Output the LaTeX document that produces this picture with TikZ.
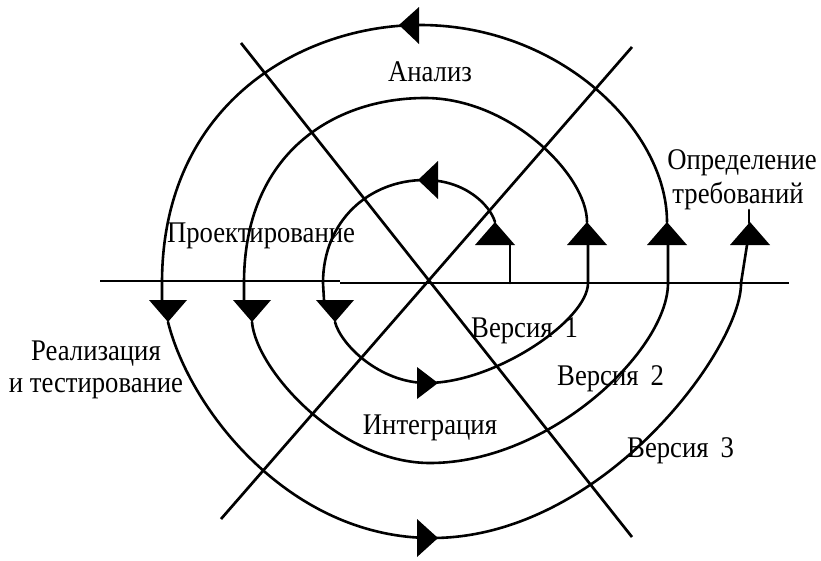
\documentclass[tikz,border=0pt]{standalone}
\usepackage{fontspec}
\setmainfont[FakeStretch=0.89]{Liberation Serif}
\begin{document}
\begin{tikzpicture}[x=1pt,y=-1pt,
  axis/.style={line width=2.7pt},
  spiral/.style={line width=2.6pt, line cap=round, line join=round},
  head/.style={fill=black},
  lbl/.style={font=\fontsize{30}{33}\selectfont, inner sep=0pt, anchor=base}]
\useasboundingbox (0,0) rectangle (821,560);
% axes
\draw[axis] (100,281) -- (340,281);
\draw[axis] (340,283) -- (789,283);
\draw[axis] (241,43) -- (632,537);
\draw[axis] (632,47) -- (221,519);
% key points of the spiral
\coordinate (ui-top) at (425,180);
\coordinate (um-top) at (425,98);
\coordinate (uo-top) at (420,25);
\coordinate (l1-bot) at (427,383);
\coordinate (l2-bot) at (430,463);
\coordinate (l3-bot) at (432,538);
% inner upper arc
\draw[spiral] (510,283) -- (510,245);
\draw[spiral] (495,222) .. controls (490,205) and (465,180) .. (ui-top)
  .. controls (369,180) and (323,221) .. (323,283) -- (324,300);
% lower arc 1
\draw[spiral] (335,322) .. controls (341,345) and (380,383) .. (l1-bot)
  .. controls (495,383) and (588,320) .. (588,283) -- (588,245);
% middle upper arc
\draw[spiral] (587,222) .. controls (587,175) and (510,98) .. (um-top)
  .. controls (334,98) and (244,153) .. (244,283) -- (244,300);
% lower arc 2
\draw[spiral] (252,322) .. controls (256,370) and (340,463) .. (l2-bot)
  .. controls (550,463) and (668,350) .. (668,283) -- (668,245);
% outer upper arc
\draw[spiral] (667,222) .. controls (667,130) and (560,25) .. (uo-top)
  .. controls (304,25) and (162,102) .. (162,283) -- (162,300);
% lower arc 3
\draw[spiral] (168,322) .. controls (190,410) and (290,538) .. (l3-bot)
  .. controls (603,538) and (742,347) .. (741,283) -- (747,245);
\draw[spiral] (749,223) -- (749,210);
% up arrows
\fill[head] (475,245) -- (515,245) -- (495,222) -- cycle;
\fill[head] (567,245) -- (607,245) -- (587,222) -- cycle;
\fill[head] (647,245) -- (687,245) -- (667,222) -- cycle;
\fill[head] (730,245) -- (770,245) -- (750,222) -- cycle;
% down arrows
\fill[head] (149,300) -- (187,300) -- (168,322) -- cycle;
\fill[head] (233,300) -- (271,300) -- (252,322) -- cycle;
\fill[head] (316,300) -- (354,300) -- (335,322) -- cycle;
% left arrows
\fill[head] (399,25) -- (419,7) -- (419,44) -- cycle;
\fill[head] (418,180) -- (438,161) -- (438,199) -- cycle;
% right arrows
\fill[head] (438,383) -- (417,367) -- (417,399) -- cycle;
\fill[head] (438,538) -- (417,519) -- (417,557) -- cycle;
% labels
\node[lbl] (an) at (430,81) {Анализ};
\node[lbl] (opr) at (742,169) {Определение};
\node[lbl] (treb) at (738,203) {требований};
\node[lbl] (proj) at (261,242) {Проектирование};
\node[lbl] (real) at (96,360) {Реализация};
\node[lbl] (test) at (96,392) {и тестирование};
\node[lbl, anchor=base west] (v1) at (471,337) {Версия\hspace{0.18em} 1};
\node[lbl, anchor=base west] (v2) at (557,385) {Версия\hspace{0.18em} 2};
\node[lbl, anchor=base west] (v3) at (627,457) {Версия\hspace{0.18em} 3};
\node[lbl] (integ) at (430,434) {Интеграция};
\end{tikzpicture}
\end{document}
